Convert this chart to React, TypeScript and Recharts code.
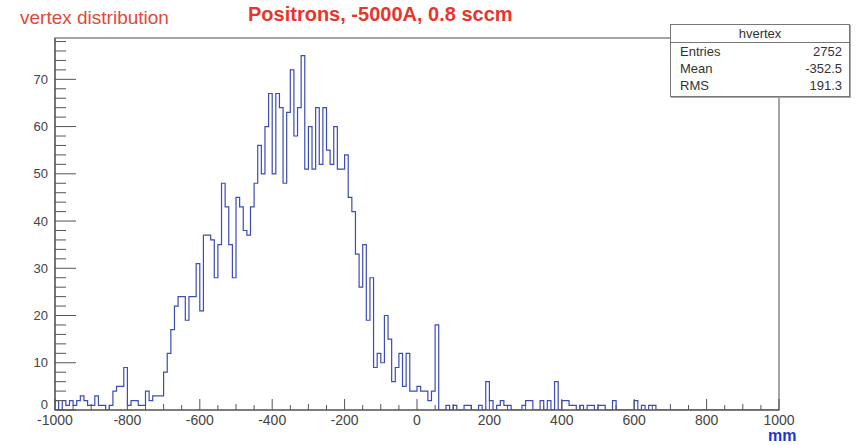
import React from 'react';
import { ComposedChart, Line, XAxis, YAxis, ReferenceArea } from 'recharts';

// Histogram "hvertex": 200 bins of 10 mm from -1000 to 1000 mm
const binStart = -1000;
const binWidth = 10;
const counts: number[] = [
  2, 0, 2, 1, 2, 1, 2, 3, 2, 1,
  1, 3, 1, 1, 0, 1, 4, 5, 5, 9,
  1, 2, 2, 1, 1, 4, 2, 3, 3, 3,
  8, 12, 17, 22, 24, 24, 19, 24, 24, 31,
  21, 37, 37, 36, 28, 35, 48, 43, 35, 28,
  45, 43, 38, 37, 43, 48, 56, 50, 60, 67,
  50, 67, 64, 48, 63, 72, 58, 64, 75, 51,
  60, 51, 64, 52, 64, 55, 52, 60, 51, 51,
  54, 45, 42, 33, 26, 35, 19, 28, 9, 12,
  10, 20, 15, 6, 9, 12, 5, 12, 4, 4,
  5, 4, 4, 2, 4, 18, 0, 0, 1, 0,
  1, 0, 0, 1, 1, 0, 0, 1, 0, 6,
  2, 0, 1, 2, 1, 1, 0, 0, 0, 1,
  2, 2, 0, 0, 2, 0, 2, 0, 6, 0,
  2, 2, 1, 1, 0, 1, 0, 1, 1, 0,
  1, 1, 0, 0, 2, 0, 0, 0, 0, 0,
  2, 0, 1, 0, 1, 1, 0, 0, 0, 0,
  0, 0, 0, 0, 0, 0, 0, 0, 0, 0,
  0, 0, 0, 0, 0, 0, 0, 0, 0, 0,
  0, 0, 0, 0, 0, 0, 0, 0, 0, 0,
];

const xMajorTicks = [-1000, -800, -600, -400, -200, 0, 200, 400, 600, 800, 1000];
const yMajorTicks = [0, 10, 20, 30, 40, 50, 60, 70];
const xMinorStep = 50;
const yMinorStep = 2;
const yMax = 78.75;

const statsTitle = 'hvertex';
const statsRows: [string, string][] = [
  ['Entries', '2752'],
  ['Mean', '-352.5'],
  ['RMS', '191.3'],
];

const histData = counts.map((c, i) => ({ x: binStart + i * binWidth, y: c }));
histData.push({ x: binStart + counts.length * binWidth, y: counts[counts.length - 1] });

const xTicks: number[] = [];
for (let v = xMajorTicks[0]; v <= xMajorTicks[xMajorTicks.length - 1]; v += xMinorStep) xTicks.push(v);
const yTicks: number[] = [];
for (let v = 0; v <= yMax; v += yMinorStep) yTicks.push(v);

const FONT = '"Liberation Sans", Arial, Helvetica, sans-serif';
const AXIS_COLOR = '#555';
const LABEL_COLOR = '#444';

const XTick = (props: any) => {
  const { x, y, payload } = props;
  const v = payload.value as number;
  const major = xMajorTicks.includes(v);
  const mid = !major && v % 100 === 0;
  const len = major ? 11 : mid ? 6 : 5;
  return (
    <g>
      <line x1={x} y1={y} x2={x} y2={y - len} stroke={AXIS_COLOR} strokeWidth={1} />
      {major && (
        <text x={x} y={y + 15} textAnchor="middle" fontSize={14} fill={LABEL_COLOR} fontFamily={FONT}>
          {v}
        </text>
      )}
    </g>
  );
};

const YTick = (props: any) => {
  const { x, y, payload } = props;
  const v = payload.value as number;
  const major = yMajorTicks.includes(v);
  const len = major ? 21 : 11;
  return (
    <g>
      <line x1={x} y1={y} x2={x + len} y2={y} stroke={AXIS_COLOR} strokeWidth={1} />
      {major && (
        <text x={x - 7} y={v === 0 ? y - 6 : y} dy="0.35em" textAnchor="end" fontSize={13} fill={LABEL_COLOR} fontFamily={FONT}>
          {v}
        </text>
      )}
    </g>
  );
};

export default function App() {
  return (
    <div style={{ position: 'absolute', left: 0, top: 0, width: 858, height: 445, background: '#fff', fontFamily: FONT }}>
      <ComposedChart
        width={858}
        height={445}
        data={histData}
        margin={{ top: 38, right: 79, left: 0, bottom: 0 }}
      >
        <XAxis
          dataKey="x"
          type="number"
          domain={[-1000, 1000]}
          ticks={xTicks}
          interval={0}
          tick={<XTick />}
          tickLine={false}
          tickSize={0}
          tickMargin={0}
          height={35}
          axisLine={{ stroke: AXIS_COLOR, strokeWidth: 1.2 }}
          allowDataOverflow
        />
        <YAxis
          type="number"
          domain={[0, yMax]}
          ticks={yTicks}
          interval={0}
          tick={<YTick />}
          tickLine={false}
          tickSize={0}
          tickMargin={0}
          width={55}
          axisLine={{ stroke: AXIS_COLOR, strokeWidth: 1.2 }}
          allowDataOverflow
        />
        <ReferenceArea x1={-1000} x2={1000} y1={0} y2={yMax} fill="none" stroke="#888" strokeWidth={1.5} />
        <Line
          dataKey="y"
          type="stepAfter"
          stroke="#3d4cb5"
          strokeWidth={1.2}
          dot={false}
          activeDot={false}
          isAnimationActive={false}
        />
      </ComposedChart>

      <div style={{ position: 'absolute', left: 20, top: 7, fontSize: 19, color: '#e2473c', whiteSpace: 'nowrap' }}>
        vertex distribution
      </div>
      <div style={{ position: 'absolute', left: 248, top: 3, fontSize: 20, fontWeight: 'bold', color: '#e8352b', whiteSpace: 'nowrap' }}>
        Positrons, -5000A, 0.8 sccm
      </div>

      <div
        style={{
          position: 'absolute',
          left: 670,
          top: 24,
          width: 180,
          height: 73,
          border: '1.5px solid #777',
          background: '#fff',
          boxShadow: '1px 1px 0 #aaa',
          boxSizing: 'border-box',
          fontSize: 13,
          color: '#333',
        }}
      >
        <div style={{ height: 17, lineHeight: '17px', textAlign: 'center', borderBottom: '1px solid #777' }}>{statsTitle}</div>
        {statsRows.map(([k, v]) => (
          <div key={k} style={{ display: 'flex', justifyContent: 'space-between', padding: '0 7px 0 9px', height: 17, lineHeight: '17px' }}>
            <span>{k}</span>
            <span>{v}</span>
          </div>
        ))}
      </div>

      <div style={{ position: 'absolute', left: 768, top: 427, fontSize: 16, lineHeight: '17px', fontWeight: 'bold', color: '#2236c8' }}>mm</div>
    </div>
  );
}
